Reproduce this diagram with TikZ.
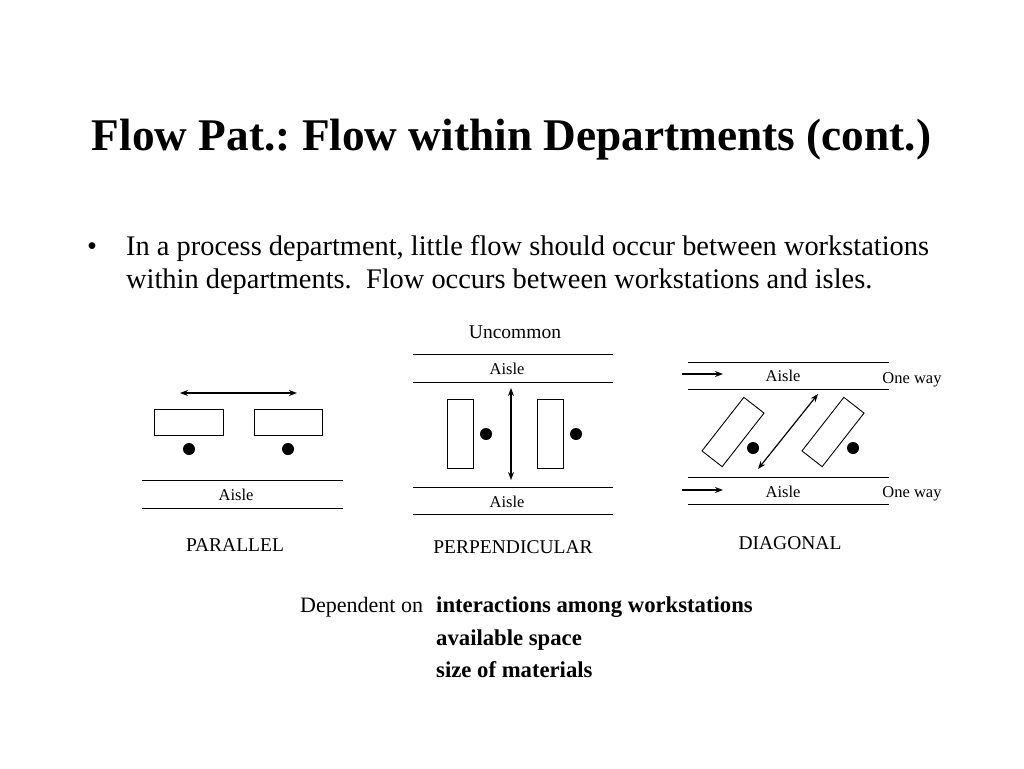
\documentclass[tikz,border=0pt]{standalone}
\usepackage{fontspec}
\setmainfont{Liberation Serif}
\usetikzlibrary{arrows.meta}
\frenchspacing
\begin{document}
\begin{tikzpicture}[x=1pt,y=-1pt,
  box/.style={draw,line width=0.9pt,inner sep=0pt,fill=white},
  dot/.style={circle,fill=black,inner sep=0pt,minimum size=12pt},
  aisleline/.style={line width=0.9pt},
  flow/.style={line width=1.2pt,{Stealth[length=8pt,width=6pt]}-{Stealth[length=8pt,width=6pt]}},
  oneway/.style={line width=1.2pt,-{Stealth[length=8pt,width=6pt]}},
  small/.style={font=\fontsize{16.5}{19}\selectfont,anchor=base,inner sep=0pt},
  diaglabel/.style={font=\fontsize{19.5}{23}\selectfont,anchor=base,inner sep=0pt},
  bodytext/.style={font=\fontsize{28.4}{33}\selectfont,anchor=base west,inner sep=0pt},
  deptext/.style={font=\fontsize{22}{26}\selectfont,anchor=base west,inner sep=0pt},
  depbold/.style={font=\fontsize{22.7}{26}\selectfont\bfseries,anchor=base west,inner sep=0pt}]
\useasboundingbox[fill=white] (0,0) rectangle (1024,768);

% title
\node[anchor=base,inner sep=0pt,font=\fontsize{45.3}{54}\selectfont\bfseries] (title) at (511.5,150) {Flow Pat.: Flow within Departments (cont.)};

% bullet
\node[anchor=base,inner sep=0pt,font=\fontsize{28.4}{33}\selectfont] (bullet) at (92,255) {\textbullet};
\node[bodytext] (line1) at (126,255) {In a process department, little flow should occur between workstations};
\node[bodytext] (line2) at (126,288) {within departments.~ Flow occurs between workstations and isles.};

% ---------- PARALLEL ----------
\coordinate (pa1) at (180,393);
\coordinate (pa2) at (297,393);
\draw[flow] (pa1) -- (pa2);
\node[box,minimum width=69pt,minimum height=26pt] (p1) at (188.5,422) {};
\node[box,minimum width=68pt,minimum height=26pt] (p2) at (288,422) {};
\node[dot] (p1d) at (189,449) {};
\node[dot] (p2d) at (288,449) {};
\draw[aisleline] (142,480) -- (343,480);
\draw[aisleline] (142,508) -- (343,508);
\node[small] (paisle) at (236,500) {Aisle};
\node[diaglabel] (plab) at (235,551) {PARALLEL};

% ---------- PERPENDICULAR ----------
\node[diaglabel] (unc) at (515,338) {Uncommon};
\draw[aisleline] (413,354) -- (613,354);
\draw[aisleline] (413,382) -- (613,382);
\draw[aisleline] (413,487) -- (613,487);
\draw[aisleline] (413,514) -- (613,514);
\node[small] (qaisle1) at (507,374.5) {Aisle};
\node[small] (qaisle2) at (507,507) {Aisle};
\node[box,minimum width=26pt,minimum height=69pt] (q1) at (460,433.5) {};
\node[box,minimum width=26pt,minimum height=69pt] (q2) at (550,433.5) {};
\node[dot] (q1d) at (486,434) {};
\node[dot] (q2d) at (576,434) {};
\coordinate (qa1) at (511,388);
\coordinate (qa2) at (511,480);
\draw[flow] (qa1) -- (qa2);
\node[diaglabel] (qlab) at (513,553) {PERPENDICULAR};

% ---------- DIAGONAL ----------
\draw[aisleline] (688,362) -- (889,362);
\draw[aisleline] (688,389) -- (889,389);
\draw[aisleline] (688,477) -- (889,477);
\draw[aisleline] (688,504) -- (889,504);
\coordinate (da1) at (682,374);
\coordinate (da2) at (723,374);
\coordinate (db1) at (682,490);
\coordinate (db2) at (723,490);
\draw[oneway] (da1) -- (da2);
\draw[oneway] (db1) -- (db2);
\node[small] (daisle1) at (783,381) {Aisle};
\node[small] (daisle2) at (783,497) {Aisle};
\node[small] (dway1) at (912,383) {One way};
\node[small] (dway2) at (912,497) {One way};
\node[box,minimum width=68pt,minimum height=25.6pt,rotate=52] (d1) at (733,432) {};
\node[box,minimum width=68pt,minimum height=25.6pt,rotate=52] (d2) at (833,432) {};
\node[dot] (d1d) at (753,448) {};
\node[dot] (d2d) at (853,448) {};
\coordinate (dc1) at (758,469);
\coordinate (dc2) at (818,394);
\draw[flow] (dc1) -- (dc2);
\node[diaglabel] (dlab) at (790,549) {DIAGONAL};

% ---------- Dependent on ----------
\node[deptext] (dep) at (300,612) {Dependent on};
\node[depbold] (dep1) at (436,612) {interactions among workstations};
\node[depbold] (dep2) at (436,645) {available space};
\node[depbold] (dep3) at (436,677) {size of materials};
\end{tikzpicture}
\end{document}
